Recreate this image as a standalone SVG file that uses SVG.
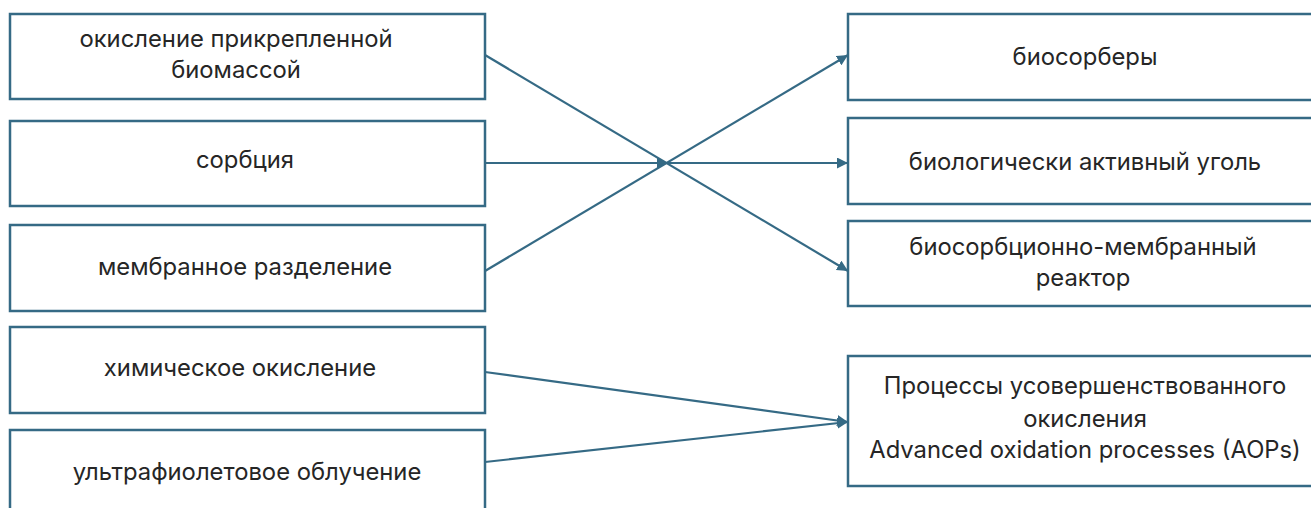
<svg xmlns="http://www.w3.org/2000/svg" width="1311" height="508" viewBox="0 0 1311 508">
<style>
.box{fill:#fff;stroke:#356a85;stroke-width:2.5}
.t{font-family:Inter,"Noto Sans",sans-serif;font-size:23.8px;fill:#262626;text-anchor:middle}
.c{stroke:#356a85;stroke-width:2.2;fill:none;marker-end:url(#ah)}
</style>
<defs>
<marker id="ah" viewBox="0 0 10 10" refX="10" refY="5" markerWidth="5" markerHeight="5" markerUnits="strokeWidth" orient="auto">
<path d="M0,0 L10,5 L0,10 Z" fill="#356a85"/>
</marker>
</defs>
<rect width="1311" height="508" fill="#fff"/>
<g id="n1"><rect class="box" x="10" y="14" width="475" height="85"/><text class="t" x="236" y="47">окисление прикрепленной</text><text class="t" x="236" y="78">биомассой</text></g>
<g id="n2"><rect class="box" x="10" y="121" width="475" height="85"/><text class="t" x="245" y="168">сорбция</text></g>
<g id="n3"><rect class="box" x="10" y="225" width="475" height="86"/><text class="t" x="245" y="275">мембранное разделение</text></g>
<g id="n4"><rect class="box" x="10" y="327" width="475" height="86"/><text class="t" x="240" y="376">химическое окисление</text></g>
<g id="n5"><rect class="box" x="10" y="430" width="475" height="90"/><text class="t" x="247" y="480">ультрафиолетовое облучение</text></g>
<g id="r1"><rect class="box" x="848" y="14" width="476" height="86"/><text class="t" x="1085" y="65">биосорберы</text></g>
<g id="r2"><rect class="box" x="848" y="118" width="476" height="86"/><text class="t" x="1085" y="170">биологически активный уголь</text></g>
<g id="r3"><rect class="box" x="848" y="221" width="476" height="85"/><text class="t" x="1083" y="255">биосорбционно-мембранный</text><text class="t" x="1083" y="286">реактор</text></g>
<g id="r4"><rect class="box" x="848" y="356" width="476" height="130"/><text class="t" x="1085" y="394">Процессы усовершенствованного</text><text class="t" x="1085" y="426.5">окисления</text><text class="t" x="1085" y="458">Advanced oxidation processes (AOPs)</text></g>
<g id="connectors">
<path class="c" d="M485,55 L848,271"/>
<path class="c" d="M485,163 L668,163"/>
<path class="c" d="M668,163 L848,163"/>
<path class="c" d="M485,271 L848,55"/>
<path class="c" d="M485,372 L848,422"/>
<path class="c" d="M485,462 L848,422"/>
</g>
</svg>
